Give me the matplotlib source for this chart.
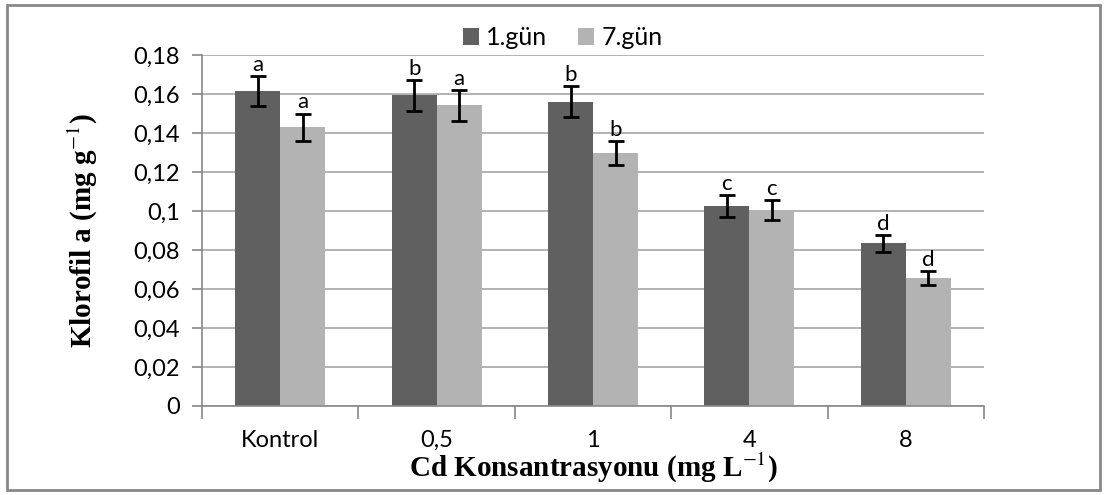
import matplotlib
matplotlib.use("Agg")
import matplotlib.pyplot as plt
from matplotlib.patches import Rectangle
import numpy as np

categories = ["Kontrol", "0,5", "1", "4", "8"]
gun1 = [0.1615, 0.1594, 0.1561, 0.1026, 0.0834]
gun1_err = [0.0078, 0.0080, 0.0079, 0.0055, 0.0044]
gun7 = [0.1430, 0.1542, 0.1298, 0.1006, 0.0658]
gun7_err = [0.0070, 0.0078, 0.0063, 0.0051, 0.0035]
letters1 = ["a", "b", "b", "c", "d"]
letters7 = ["a", "a", "b", "c", "d"]
yticks = [0, 0.02, 0.04, 0.06, 0.08, 0.1, 0.12, 0.14, 0.16, 0.18]

plt.rcParams["font.family"] = ["Lato", "DejaVu Sans"]
plt.rcParams["mathtext.fontset"] = "stix"

fig = plt.figure(figsize=(11.07, 4.95), dpi=100)
fig.patches.append(Rectangle((0.006, 0.01), 0.988, 0.98, transform=fig.transFigure,
                             fill=False, edgecolor="#888888", linewidth=2))
ax = fig.add_axes([0.1825, 0.1798, 0.7064, 0.7088])

x = np.arange(len(categories))
w = 0.2875
dark, light = "#606060", "#b3b3b3"
ax.bar(x - w / 2, gun1, w, color=dark, label="1.gün", zorder=2)
ax.bar(x + w / 2, gun7, w, color=light, label="7.gün", zorder=2)
ax.errorbar(x - w / 2, gun1, yerr=gun1_err, fmt="none", ecolor="black",
            elinewidth=2, capsize=5.5, capthick=2, zorder=3)
ax.errorbar(x + w / 2, gun7, yerr=gun7_err, fmt="none", ecolor="black",
            elinewidth=2, capsize=5.5, capthick=2, zorder=3)
for i in range(len(categories)):
    ax.text(x[i] - w / 2, gun1[i] + gun1_err[i] + 0.0006, letters1[i],
            ha="center", va="bottom", fontsize=16)
    ax.text(x[i] + w / 2, gun7[i] + gun7_err[i] + 0.0006, letters7[i],
            ha="center", va="bottom", fontsize=16)

ax.set_xlim(-0.5, len(categories) - 0.5)
ax.set_ylim(0, 0.18)
ax.set_yticks(yticks)
ax.set_yticklabels([("%g" % v).replace(".", ",") for v in yticks], fontsize=17)
ax.yaxis.grid(True, color="#a6a6a6", linewidth=1.2, zorder=0)
ax.set_axisbelow(True)

ax.set_xticks(x)
ax.set_xticklabels(categories, fontsize=17)
ax.tick_params(axis="x", length=0, pad=17)
ax.set_xticks(np.arange(len(categories) + 1) - 0.5, minor=True)
ax.tick_params(axis="x", which="minor", length=9, color="#888888", width=1.2)
ax.tick_params(axis="y", length=7, color="#888888", width=1.2, pad=9)

for s in ["top", "right"]:
    ax.spines[s].set_visible(False)
for s in ["left", "bottom"]:
    ax.spines[s].set_color("#888888")
    ax.spines[s].set_linewidth(1.2)

ax.set_ylabel("Klorofil a (mg g$^{-1}$)", fontsize=21, fontweight="bold",
              family="Liberation Serif", labelpad=24)
ax.set_xlabel("Cd Konsantrasyonu (mg L$^{-1}$)", fontsize=21, fontweight="bold",
              family="Liberation Serif", labelpad=0)

ax.legend(loc="center", bbox_to_anchor=(0.461, 1.05), ncol=2, frameon=False,
          fontsize=18, handlelength=0.65, handleheight=0.65, handletextpad=0.3,
          columnspacing=1.2, borderaxespad=0)

fig.savefig("out.png", dpi=100)
